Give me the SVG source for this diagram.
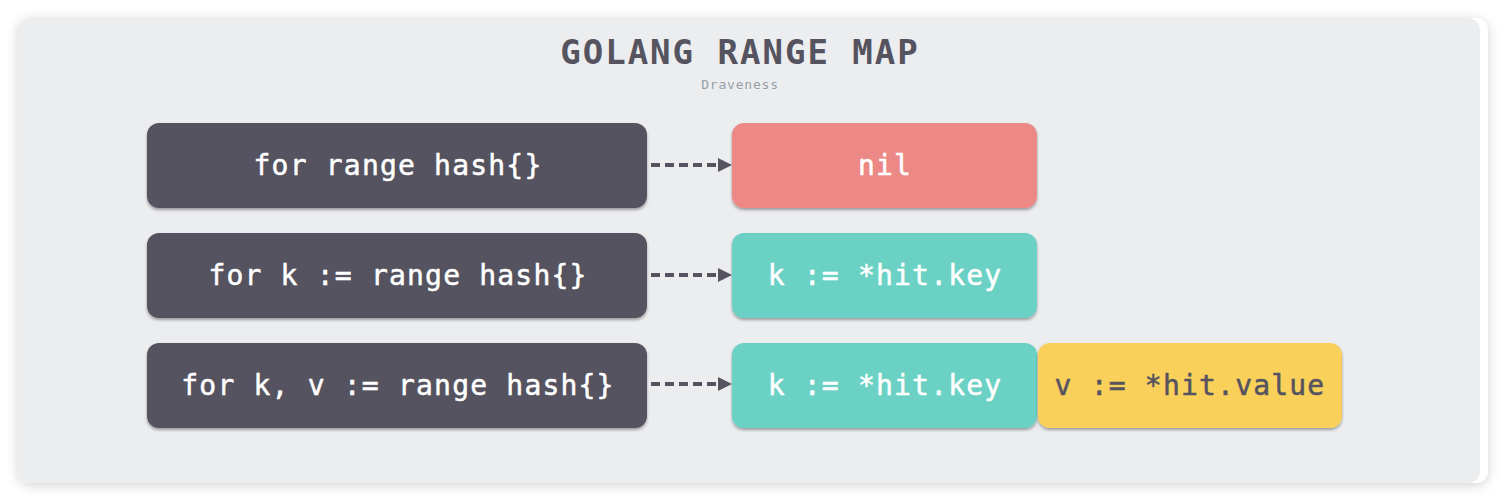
<svg xmlns="http://www.w3.org/2000/svg" width="1506" height="502" viewBox="0 0 1506 502">
<defs>
<style>
.t{font-family:"DejaVu Sans Mono","Liberation Mono",monospace;font-size:28px;text-anchor:middle;letter-spacing:1.2px;stroke-width:0.5px}
.w{fill:#ffffff;stroke:#ffffff}
.d{fill:#55535f;stroke:#55535f}
.c{stroke:#55535f;stroke-width:4;stroke-dasharray:9 5;fill:none}
</style>
<filter id="ps" x="-5%" y="-10%" width="110%" height="120%">
<feDropShadow dx="0" dy="2" stdDeviation="6" flood-color="#000" flood-opacity="0.18"/>
</filter>
<filter id="bs" x="-5%" y="-10%" width="110%" height="130%">
<feDropShadow dx="0" dy="2" stdDeviation="1.5" flood-color="#000" flood-opacity="0.35"/>
</filter>
</defs>
<rect width="1506" height="502" fill="#ffffff"/>
<rect x="18" y="18" width="1470" height="465" rx="12" fill="#ffffff" filter="url(#ps)"/>
<rect x="18" y="18" width="1462" height="465" rx="12" fill="#ecedef"/>
<g id="title">
<text x="740" y="64" font-family="DejaVu Sans Mono,Liberation Mono,monospace" font-size="34" font-weight="bold" fill="#55535f" text-anchor="middle" letter-spacing="2">GOLANG RANGE MAP</text>
<text x="740" y="89" font-family="DejaVu Sans Mono,Liberation Mono,monospace" font-size="13" fill="#96a0aa" text-anchor="middle" letter-spacing="0.8">Draveness</text>
</g>
<g id="connectors">
<line class="c" x1="651" y1="165" x2="720" y2="165"/>
<path d="M718,158 L732,165 L718,172 z" fill="#55535f"/>
<line class="c" x1="651" y1="275" x2="720" y2="275"/>
<path d="M718,268 L732,275 L718,282 z" fill="#55535f"/>
<line class="c" x1="651" y1="384" x2="720" y2="384"/>
<path d="M718,377 L732,384 L718,391 z" fill="#55535f"/>
</g>
<g id="n1">
<rect x="147" y="123" width="500" height="85" rx="12" fill="#55535f" filter="url(#bs)"/>
<text class="t w" x="398" y="175">for range hash{}</text>
</g>
<g id="n2">
<rect x="147" y="233" width="500" height="85" rx="12" fill="#55535f" filter="url(#bs)"/>
<text class="t w" x="398" y="285">for k := range hash{}</text>
</g>
<g id="n3">
<rect x="147" y="343" width="500" height="85" rx="12" fill="#55535f" filter="url(#bs)"/>
<text class="t w" x="398" y="395">for k, v := range hash{}</text>
</g>
<g id="nil">
<rect x="732" y="123" width="305" height="85" rx="12" fill="#ec8885" filter="url(#bs)"/>
<text class="t w" x="885" y="175">nil</text>
</g>
<g id="key1">
<rect x="732" y="233" width="305" height="85" rx="12" fill="#6ad1c4" filter="url(#bs)"/>
<text class="t w" x="885" y="285">k := *hit.key</text>
</g>
<g id="key2">
<rect x="732" y="343" width="305" height="85" rx="12" fill="#6ad1c4" filter="url(#bs)"/>
<text class="t w" x="885" y="395">k := *hit.key</text>
</g>
<g id="value">
<rect x="1038" y="343" width="304" height="85" rx="12" fill="#f9d05a" filter="url(#bs)"/>
<text class="t d" x="1190" y="395">v := *hit.value</text>
</g>
</svg>
